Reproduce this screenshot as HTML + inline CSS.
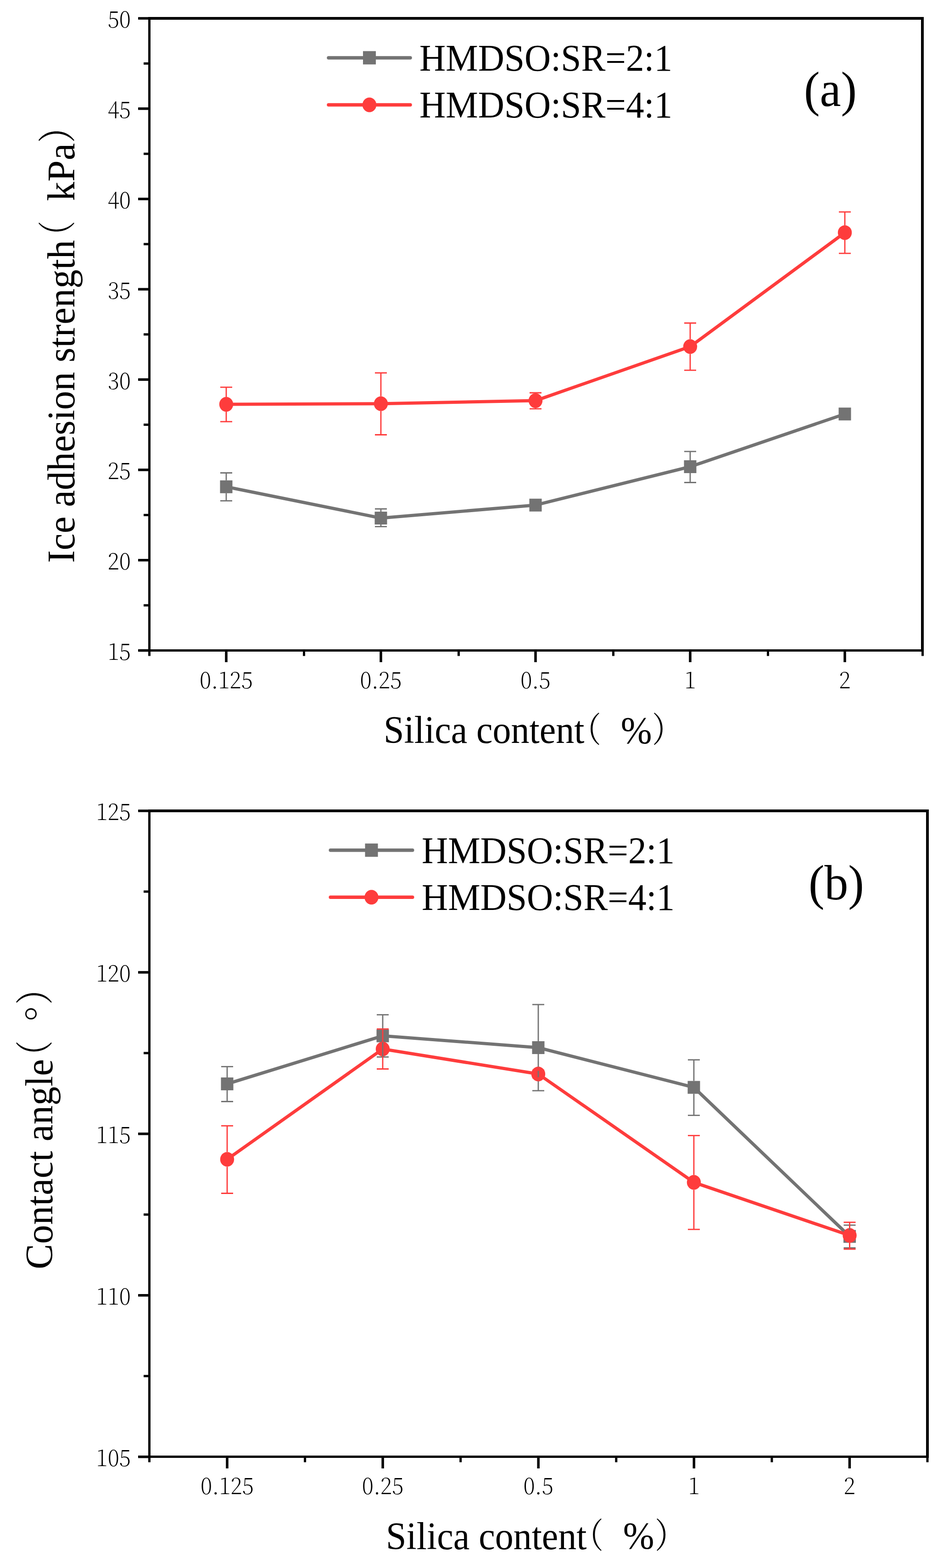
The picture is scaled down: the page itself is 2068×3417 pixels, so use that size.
<!DOCTYPE html>
<html><head><meta charset="utf-8"><title>Figure</title>
<style>
html,body{margin:0;padding:0;background:#fff;}
svg{display:block;}
.tk{font-family:"Noto Serif CJK SC", "Liberation Serif", serif;font-weight:200;font-size:50.7px;fill:#000;}
.lg{font-family:"Liberation Serif", "Noto Serif CJK SC", serif;font-size:82.5px;fill:#000;}
.ax{font-family:"Liberation Serif", "Noto Serif CJK SC", serif;font-size:84px;fill:#000;}
.pl{font-family:"Liberation Serif", "Noto Serif CJK SC", serif;font-size:108px;fill:#000;}
.deg{font-family:"Noto Serif CJK SC", serif;font-weight:300;font-size:84px;fill:#000;}
.par{font-family:"Noto Serif CJK SC", serif;font-weight:400;font-size:80px;fill:#000;}
</style></head><body>
<svg width="2068" height="3417" viewBox="0 0 2068 3417">
<rect width="2068" height="3417" fill="#fff"/>
<rect x="323" y="37" width="5" height="1383" fill="#000"/>
<rect x="2007" y="37" width="6" height="1383" fill="#000"/>
<rect x="323" y="37" width="1690" height="6" fill="#000"/>
<rect x="323" y="1415" width="1690" height="5" fill="#000"/>
<rect x="301" y="37.25" width="23" height="5.5" fill="#000"/>
<text id="ayl50" x="285" y="60.50" class="tk" text-anchor="end" transform="translate(285 0) scale(0.93 1) translate(-285 0)">50</text>
<rect x="301" y="234.04" width="23" height="5.5" fill="#000"/>
<text id="ayl45" x="285" y="257.29" class="tk" text-anchor="end" transform="translate(285 0) scale(0.93 1) translate(-285 0)">45</text>
<rect x="301" y="430.82" width="23" height="5.5" fill="#000"/>
<text id="ayl40" x="285" y="454.07" class="tk" text-anchor="end" transform="translate(285 0) scale(0.93 1) translate(-285 0)">40</text>
<rect x="301" y="627.61" width="23" height="5.5" fill="#000"/>
<text id="ayl35" x="285" y="650.86" class="tk" text-anchor="end" transform="translate(285 0) scale(0.93 1) translate(-285 0)">35</text>
<rect x="301" y="824.39" width="23" height="5.5" fill="#000"/>
<text id="ayl30" x="285" y="847.64" class="tk" text-anchor="end" transform="translate(285 0) scale(0.93 1) translate(-285 0)">30</text>
<rect x="301" y="1021.18" width="23" height="5.5" fill="#000"/>
<text id="ayl25" x="285" y="1044.43" class="tk" text-anchor="end" transform="translate(285 0) scale(0.93 1) translate(-285 0)">25</text>
<rect x="301" y="1217.97" width="23" height="5.5" fill="#000"/>
<text id="ayl20" x="285" y="1241.22" class="tk" text-anchor="end" transform="translate(285 0) scale(0.93 1) translate(-285 0)">20</text>
<rect x="301" y="1414.75" width="23" height="5.5" fill="#000"/>
<text id="ayl15" x="285" y="1438.00" class="tk" text-anchor="end" transform="translate(285 0) scale(0.93 1) translate(-285 0)">15</text>
<rect x="313" y="135.89" width="11" height="5" fill="#000"/>
<rect x="313" y="332.68" width="11" height="5" fill="#000"/>
<rect x="313" y="529.47" width="11" height="5" fill="#000"/>
<rect x="313" y="726.25" width="11" height="5" fill="#000"/>
<rect x="313" y="923.04" width="11" height="5" fill="#000"/>
<rect x="313" y="1119.82" width="11" height="5" fill="#000"/>
<rect x="313" y="1316.61" width="11" height="5" fill="#000"/>
<rect x="490.25" y="1419" width="5.5" height="24" fill="#000"/>
<text id="axl0.125" x="493.00" y="1500" class="tk" text-anchor="middle" transform="translate(493.00 0) scale(0.93 1) translate(-493.00 0)">0.125</text>
<rect x="827.25" y="1419" width="5.5" height="24" fill="#000"/>
<text id="axl0.25" x="830.00" y="1500" class="tk" text-anchor="middle" transform="translate(830.00 0) scale(0.93 1) translate(-830.00 0)">0.25</text>
<rect x="1164.25" y="1419" width="5.5" height="24" fill="#000"/>
<text id="axl0.5" x="1167.00" y="1500" class="tk" text-anchor="middle" transform="translate(1167.00 0) scale(0.93 1) translate(-1167.00 0)">0.5</text>
<rect x="1501.25" y="1419" width="5.5" height="24" fill="#000"/>
<text id="axl1" x="1504.00" y="1500" class="tk" text-anchor="middle" transform="translate(1504.00 0) scale(0.93 1) translate(-1504.00 0)">1</text>
<rect x="1838.25" y="1419" width="5.5" height="24" fill="#000"/>
<text id="axl2" x="1841.00" y="1500" class="tk" text-anchor="middle" transform="translate(1841.00 0) scale(0.93 1) translate(-1841.00 0)">2</text>
<rect x="323.00" y="1419" width="5" height="10.5" fill="#000"/>
<rect x="660.00" y="1419" width="5" height="10.5" fill="#000"/>
<rect x="997.00" y="1419" width="5" height="10.5" fill="#000"/>
<rect x="1334.00" y="1419" width="5" height="10.5" fill="#000"/>
<rect x="1671.00" y="1419" width="5" height="10.5" fill="#000"/>
<rect x="2008.00" y="1419" width="5" height="10.5" fill="#000"/>
<polyline points="493.0,1060.8 830.0,1129.0 1167.0,1100.7 1504.0,1017.0 1841.0,902.2" fill="none" stroke="#737373" stroke-width="7" stroke-linejoin="round"/>
<polyline points="493.0,881.1 830.0,879.8 1167.0,873.1 1504.0,755.3 1841.0,506.9" fill="none" stroke="#FE3C3C" stroke-width="7" stroke-linejoin="round"/>
<rect x="479.5" y="1046.8" width="27" height="28" fill="#737373"/>
<rect x="816.5" y="1115.0" width="27" height="28" fill="#737373"/>
<rect x="1153.5" y="1086.7" width="27" height="28" fill="#737373"/>
<rect x="1490.5" y="1003.0" width="27" height="28" fill="#737373"/>
<rect x="1827.5" y="888.2" width="27" height="28" fill="#737373"/>
<ellipse cx="493.0" cy="881.1" rx="15.2" ry="16" fill="#FE3C3C"/>
<ellipse cx="830.0" cy="879.8" rx="15.2" ry="16" fill="#FE3C3C"/>
<ellipse cx="1167.0" cy="873.1" rx="15.2" ry="16" fill="#FE3C3C"/>
<ellipse cx="1504.0" cy="755.3" rx="15.2" ry="16" fill="#FE3C3C"/>
<ellipse cx="1841.0" cy="506.9" rx="15.2" ry="16" fill="#FE3C3C"/>
<path d="M493.0 1046.8V1030.5M493.0 1074.8V1091.4M480.0 1030.5H506.0M480.0 1091.4H506.0" stroke="#737373" stroke-width="2.8" fill="none"/>
<path d="M830.0 1115.0V1109.0M830.0 1143.0V1147.7M817.0 1109.0H843.0M817.0 1147.7H843.0" stroke="#737373" stroke-width="2.8" fill="none"/>
<path d="M1504.0 1003.0V983.9M1504.0 1031.0V1051.5M1491.0 983.9H1517.0M1491.0 1051.5H1517.0" stroke="#737373" stroke-width="2.8" fill="none"/>
<path d="M493.0 865.1V843.8M493.0 897.1V918.8M480.0 843.8H506.0M480.0 918.8H506.0" stroke="#FE3C3C" stroke-width="2.8" fill="none"/>
<path d="M830.0 863.8V812.6M830.0 895.8V947.5M817.0 812.6H843.0M817.0 947.5H843.0" stroke="#FE3C3C" stroke-width="2.8" fill="none"/>
<path d="M1167.0 857.1V856.0M1167.0 889.1V890.8M1154.0 856.0H1180.0M1154.0 890.8H1180.0" stroke="#FE3C3C" stroke-width="2.8" fill="none"/>
<path d="M1504.0 739.3V704.0M1504.0 771.3V806.8M1491.0 704.0H1517.0M1491.0 806.8H1517.0" stroke="#FE3C3C" stroke-width="2.8" fill="none"/>
<path d="M1841.0 490.9V461.8M1841.0 522.9V552.1M1828.0 461.8H1854.0M1828.0 552.1H1854.0" stroke="#FE3C3C" stroke-width="2.8" fill="none"/>
<line x1="716" y1="125.9" x2="894" y2="125.9" stroke="#737373" stroke-width="7.5" stroke-linecap="round"/>
<rect x="791.0" y="111.4" width="28" height="29" fill="#737373"/>
<line x1="716" y1="228.5" x2="894" y2="228.5" stroke="#FE3C3C" stroke-width="7.5" stroke-linecap="round"/>
<ellipse cx="805.0" cy="228.5" rx="15.2" ry="16" fill="#FE3C3C"/>
<text id="aleg0" x="914" y="153.9" class="lg" transform="translate(914 0) scale(0.961 1) translate(-914 0)">HMDSO:SR=2:1</text>
<text id="aleg1" x="914" y="255.8" class="lg" transform="translate(914 0) scale(0.961 1) translate(-914 0)">HMDSO:SR=4:1</text>
<text id="apanel" x="1752" y="231" class="pl" transform="translate(1752 0) scale(0.96 1) translate(-1752 0)">(a)</text>
<text id="axt0" x="839" y="1619" class="ax" transform="matrix(0.9991 0 0 1.0000 -2.22 0.00) translate(839 0) scale(0.953 1) translate(-839 0)">Silica content</text>
<text id="axt1" x="1240" y="1619" class="par" transform="matrix(0.8174 0 0 0.9400 230.93 95.12)">（</text>
<text id="axt2" x="1354" y="1619" class="ax" transform="matrix(0.9921 0 0 0.9793 9.37 33.32) translate(1354 0) scale(0.977 1) translate(-1354 0)">%</text>
<text id="axt3" x="1420" y="1619" class="par" transform="matrix(0.8174 0 0 0.9400 260.22 95.12)">）</text>
<text id="ayt0" x="0" y="0" class="ax" transform="matrix(1.0000 0 0 0.9861 0.00 18.74) translate(162 1225) rotate(-90)">Ice adhesion strength</text>
<text id="ayt1" x="0" y="0" class="par" transform="matrix(1.0440 0 0 0.8478 -15.48 104.53) translate(162 524) rotate(-90)">（</text>
<text id="ayt2" x="0" y="0" class="ax" transform="translate(162 438) rotate(-90)">kPa</text>
<text id="ayt3" x="0" y="0" class="par" transform="matrix(1.0440 0 0 0.9000 -15.48 4.50) translate(162 341) rotate(-90)">）</text>
<rect x="323" y="1764" width="5" height="1413" fill="#000"/>
<rect x="2018" y="1764" width="6" height="1413" fill="#000"/>
<rect x="323" y="1764" width="1701" height="6" fill="#000"/>
<rect x="323" y="3172" width="1701" height="5" fill="#000"/>
<rect x="301" y="1764.25" width="23" height="5.5" fill="#000"/>
<text id="byl125" x="285" y="1787.50" class="tk" text-anchor="end" transform="translate(285 0) scale(0.93 1) translate(-285 0)">125</text>
<rect x="301" y="2116.18" width="23" height="5.5" fill="#000"/>
<text id="byl120" x="285" y="2139.43" class="tk" text-anchor="end" transform="translate(285 0) scale(0.93 1) translate(-285 0)">120</text>
<rect x="301" y="2468.10" width="23" height="5.5" fill="#000"/>
<text id="byl115" x="285" y="2491.35" class="tk" text-anchor="end" transform="translate(285 0) scale(0.93 1) translate(-285 0)">115</text>
<rect x="301" y="2820.03" width="23" height="5.5" fill="#000"/>
<text id="byl110" x="285" y="2843.28" class="tk" text-anchor="end" transform="translate(285 0) scale(0.93 1) translate(-285 0)">110</text>
<rect x="301" y="3171.95" width="23" height="5.5" fill="#000"/>
<text id="byl105" x="285" y="3195.20" class="tk" text-anchor="end" transform="translate(285 0) scale(0.93 1) translate(-285 0)">105</text>
<rect x="313" y="1940.46" width="11" height="5" fill="#000"/>
<rect x="313" y="2292.39" width="11" height="5" fill="#000"/>
<rect x="313" y="2644.31" width="11" height="5" fill="#000"/>
<rect x="313" y="2996.24" width="11" height="5" fill="#000"/>
<rect x="492.25" y="3176" width="5.5" height="24" fill="#000"/>
<text id="bxl0.125" x="495.00" y="3256" class="tk" text-anchor="middle" transform="translate(495.00 0) scale(0.93 1) translate(-495.00 0)">0.125</text>
<rect x="831.35" y="3176" width="5.5" height="24" fill="#000"/>
<text id="bxl0.25" x="834.10" y="3256" class="tk" text-anchor="middle" transform="translate(834.10 0) scale(0.93 1) translate(-834.10 0)">0.25</text>
<rect x="1170.45" y="3176" width="5.5" height="24" fill="#000"/>
<text id="bxl0.5" x="1173.20" y="3256" class="tk" text-anchor="middle" transform="translate(1173.20 0) scale(0.93 1) translate(-1173.20 0)">0.5</text>
<rect x="1509.55" y="3176" width="5.5" height="24" fill="#000"/>
<text id="bxl1" x="1512.30" y="3256" class="tk" text-anchor="middle" transform="translate(1512.30 0) scale(0.93 1) translate(-1512.30 0)">1</text>
<rect x="1848.65" y="3176" width="5.5" height="24" fill="#000"/>
<text id="bxl2" x="1851.40" y="3256" class="tk" text-anchor="middle" transform="translate(1851.40 0) scale(0.93 1) translate(-1851.40 0)">2</text>
<rect x="323.00" y="3176" width="5" height="10.5" fill="#000"/>
<rect x="662.10" y="3176" width="5" height="10.5" fill="#000"/>
<rect x="1001.20" y="3176" width="5" height="10.5" fill="#000"/>
<rect x="1340.30" y="3176" width="5" height="10.5" fill="#000"/>
<rect x="1679.40" y="3176" width="5" height="10.5" fill="#000"/>
<rect x="2018.50" y="3176" width="5" height="10.5" fill="#000"/>
<polyline points="495.0,2362.0 834.0,2257.3 1173.0,2283.0 1512.0,2369.6 1851.5,2694.4" fill="none" stroke="#737373" stroke-width="7" stroke-linejoin="round"/>
<polyline points="495.0,2526.4 834.0,2286.0 1173.0,2340.5 1512.0,2576.6 1851.5,2692.3" fill="none" stroke="#FE3C3C" stroke-width="7" stroke-linejoin="round"/>
<rect x="481.5" y="2348.0" width="27" height="28" fill="#737373"/>
<rect x="820.5" y="2243.3" width="27" height="28" fill="#737373"/>
<rect x="1159.5" y="2269.0" width="27" height="28" fill="#737373"/>
<rect x="1498.5" y="2355.6" width="27" height="28" fill="#737373"/>
<rect x="1838.0" y="2680.4" width="27" height="28" fill="#737373"/>
<ellipse cx="495.0" cy="2526.4" rx="15.2" ry="16" fill="#FE3C3C"/>
<ellipse cx="834.0" cy="2286.0" rx="15.2" ry="16" fill="#FE3C3C"/>
<ellipse cx="1173.0" cy="2340.5" rx="15.2" ry="16" fill="#FE3C3C"/>
<ellipse cx="1512.0" cy="2576.6" rx="15.2" ry="16" fill="#FE3C3C"/>
<ellipse cx="1851.5" cy="2692.3" rx="15.2" ry="16" fill="#FE3C3C"/>
<path d="M495.0 2348.0V2324.3M495.0 2376.0V2400.5M482.0 2324.3H508.0M482.0 2400.5H508.0" stroke="#737373" stroke-width="2.8" fill="none"/>
<path d="M834.0 2243.3V2211.4M834.0 2271.3V2303.4M821.0 2211.4H847.0M821.0 2303.4H847.0" stroke="#737373" stroke-width="2.8" fill="none"/>
<path d="M1173.0 2269.0V2189.2M1173.0 2297.0V2376.9M1160.0 2189.2H1186.0M1160.0 2376.9H1186.0" stroke="#737373" stroke-width="2.8" fill="none"/>
<path d="M1512.0 2355.6V2309.6M1512.0 2383.6V2430.7M1499.0 2309.6H1525.0M1499.0 2430.7H1525.0" stroke="#737373" stroke-width="2.8" fill="none"/>
<path d="M1851.5 2680.4V2669.8M1851.5 2708.4V2719.5M1838.5 2669.8H1864.5M1838.5 2719.5H1864.5" stroke="#737373" stroke-width="2.8" fill="none"/>
<path d="M495.0 2510.4V2453.3M495.0 2542.4V2600.5M482.0 2453.3H508.0M482.0 2600.5H508.0" stroke="#FE3C3C" stroke-width="2.8" fill="none"/>
<path d="M834.0 2270.0V2242.4M834.0 2302.0V2329.5M821.0 2242.4H847.0M821.0 2329.5H847.0" stroke="#FE3C3C" stroke-width="2.8" fill="none"/>
<path d="M1173.0 2324.5V2332.2M1173.0 2356.5V2348.8M1160.0 2332.2H1186.0M1160.0 2348.8H1186.0" stroke="#FE3C3C" stroke-width="2.8" fill="none"/>
<path d="M1512.0 2560.6V2474.6M1512.0 2592.6V2679.2M1499.0 2474.6H1525.0M1499.0 2679.2H1525.0" stroke="#FE3C3C" stroke-width="2.8" fill="none"/>
<path d="M1851.5 2676.3V2663.7M1851.5 2708.3V2722.0M1838.5 2663.7H1864.5M1838.5 2722.0H1864.5" stroke="#FE3C3C" stroke-width="2.8" fill="none"/>
<line x1="720.2" y1="1852.7" x2="898.8" y2="1852.7" stroke="#737373" stroke-width="7.5" stroke-linecap="round"/>
<rect x="795.5" y="1838.2" width="28" height="29" fill="#737373"/>
<line x1="720.2" y1="1955.3" x2="898.8" y2="1955.3" stroke="#FE3C3C" stroke-width="7.5" stroke-linecap="round"/>
<ellipse cx="809.5" cy="1955.3" rx="15.2" ry="16" fill="#FE3C3C"/>
<text id="bleg0" x="919" y="1881" class="lg" transform="translate(919 0) scale(0.961 1) translate(-919 0)">HMDSO:SR=2:1</text>
<text id="bleg1" x="919" y="1983" class="lg" transform="translate(919 0) scale(0.961 1) translate(-919 0)">HMDSO:SR=4:1</text>
<text id="bpanel" x="1762" y="1960" class="pl" transform="translate(1762 0) scale(0.96 1) translate(-1762 0)">(b)</text>
<text id="bxt0" x="844" y="3375.6" class="ax" transform="matrix(0.9993 0 0 1.0000 -2.41 0.00) translate(844 0) scale(0.953 1) translate(-844 0)">Silica content</text>
<text id="bxt1" x="1245" y="3375.6" class="par" transform="matrix(0.8174 0 0 0.9440 231.94 186.30)">（</text>
<text id="bxt2" x="1359" y="3375.6" class="ax" transform="matrix(0.9921 0 0 0.9793 9.51 68.67) translate(1359 0) scale(0.977 1) translate(-1359 0)">%</text>
<text id="bxt3" x="1425" y="3375.6" class="par" transform="matrix(0.8304 0 0 0.9440 243.78 186.30)">）</text>
<text id="byt0" x="0" y="0" class="ax" transform="matrix(1.0000 0 0 0.9873 0.00 37.16) translate(114 2764) rotate(-90)">Contact angle</text>
<text id="byt1" x="0" y="0" class="par" transform="matrix(1.0413 0 0 0.8565 -14.04 371.28) translate(114 2294) rotate(-90)">（</text>
<text id="byt2" x="0" y="0" class="deg" transform="matrix(1.1364 0 0 1.1286 -3.29 -284.63) translate(114 2224) rotate(-90)">°</text>
<text id="byt3" x="0" y="0" class="par" transform="matrix(1.0413 0 0 0.9087 -14.04 219.49) translate(114 2168) rotate(-90)">）</text>
</svg>
</body></html>
